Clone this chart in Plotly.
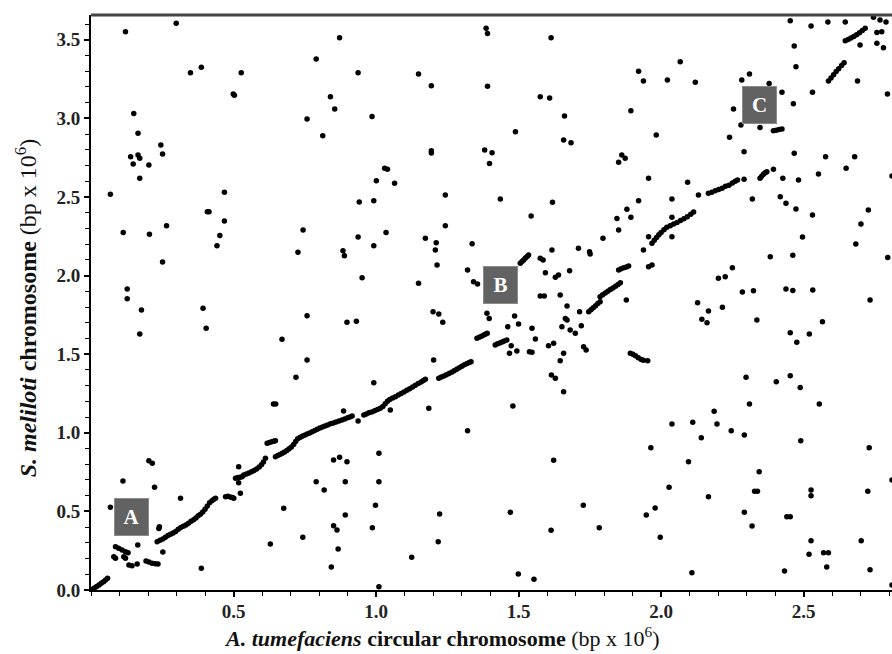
import plotly.graph_objects as go

# ---- diagonal (syntenic) runs: A. tumefaciens position (x) vs S. meliloti position (y), bp x 10^6
synteny_x = [
    0.003, 0.012, 0.020, 0.028, 0.036, 0.044, 0.051, 0.058,
    0.232, 0.242, 0.252, 0.261, 0.270, 0.279, 0.288, 0.297, 0.306, 0.315, 0.324, 0.333, 0.342, 0.351,
    0.360, 0.368, 0.376, 0.384, 0.392, 0.400, 0.408, 0.416, 0.424, 0.431, 0.437,
    0.472, 0.480, 0.488, 0.496, 0.501,
    0.507, 0.515, 0.523, 0.530,
    0.536, 0.545, 0.554, 0.563, 0.572, 0.581, 0.590, 0.598, 0.605, 0.612,
    0.618, 0.626, 0.634, 0.641, 0.647,
    0.647, 0.655, 0.663, 0.671, 0.679, 0.687, 0.695, 0.703, 0.711, 0.718, 0.725, 0.733, 0.741, 0.749,
    0.758, 0.767, 0.776, 0.785, 0.794, 0.803, 0.812, 0.821, 0.830, 0.840, 0.850, 0.860, 0.870, 0.880,
    0.890, 0.900, 0.908, 0.916,
    0.957, 0.966, 0.975, 0.985, 0.995, 1.005, 1.015, 1.024, 1.032, 1.040, 1.048, 1.058, 1.068, 1.078,
    1.088, 1.098, 1.108, 1.118, 1.128, 1.138, 1.148, 1.158, 1.166, 1.173,
    1.220, 1.229, 1.238, 1.247, 1.256, 1.265, 1.274, 1.283, 1.292, 1.301, 1.310, 1.319, 1.327, 1.333,
    1.354, 1.362, 1.370, 1.378, 1.385, 1.390,
    1.418, 1.426, 1.434, 1.442, 1.450, 1.459,
    1.506, 1.512, 1.518, 1.524, 1.530, 1.535,
    1.746, 1.754, 1.762, 1.770, 1.778, 1.786,
    1.786, 1.795, 1.804, 1.813, 1.822, 1.831, 1.840, 1.849, 1.857,
    1.851, 1.860, 1.869, 1.878, 1.886,
    1.956, 1.968,
    1.968, 1.976, 1.984, 1.992, 2.000, 2.010, 2.020, 2.032, 2.044, 2.056, 2.068, 2.080, 2.092, 2.104, 2.114,
    2.166, 2.178, 2.190, 2.202, 2.214, 2.226, 2.238, 2.250, 2.260, 2.268,
    2.347, 2.353, 2.359, 2.365, 2.371,
    2.394, 2.404, 2.414, 2.424,
    2.587, 2.596, 2.605, 2.614, 2.623, 2.633, 2.642,
    2.646, 2.656, 2.666, 2.676, 2.686, 2.696, 2.706, 2.716,
    1.892, 1.901, 1.910, 1.920, 1.930, 1.938, 1.953,
]
synteny_y = [
    0.003, 0.013, 0.022, 0.032, 0.043, 0.053, 0.064, 0.074,
    0.307, 0.317, 0.325, 0.336, 0.346, 0.355, 0.362, 0.372, 0.386, 0.397, 0.405, 0.414, 0.425, 0.437,
    0.447, 0.458, 0.472, 0.482, 0.497, 0.513, 0.535, 0.555, 0.568, 0.578, 0.584,
    0.594, 0.596, 0.592, 0.588, 0.583,
    0.711, 0.716, 0.718, 0.721,
    0.732, 0.738, 0.745, 0.752, 0.760, 0.770, 0.783, 0.797, 0.815, 0.838,
    0.933, 0.938, 0.943, 0.946, 0.950,
    0.848, 0.855, 0.862, 0.870, 0.878, 0.888, 0.898, 0.910, 0.925, 0.945, 0.962, 0.970, 0.978, 0.985,
    0.992, 0.999, 1.006, 1.014, 1.022, 1.030, 1.037, 1.043, 1.050, 1.058, 1.063, 1.069, 1.075, 1.082,
    1.088, 1.096, 1.101, 1.107,
    1.113, 1.120, 1.127, 1.133, 1.140, 1.148, 1.156, 1.168, 1.185, 1.200, 1.212, 1.222, 1.230, 1.240,
    1.250, 1.260, 1.270, 1.281, 1.292, 1.302, 1.313, 1.324, 1.332, 1.340,
    1.347, 1.355, 1.362, 1.370, 1.378, 1.386, 1.395, 1.405, 1.414, 1.424, 1.433, 1.441, 1.448, 1.452,
    1.601, 1.608, 1.615, 1.622, 1.628, 1.633,
    1.559, 1.566, 1.572, 1.578, 1.584, 1.590,
    2.078, 2.090, 2.100, 2.112, 2.122, 2.131,
    1.770, 1.783, 1.796, 1.809, 1.822, 1.834,
    1.866, 1.878, 1.889, 1.900, 1.911, 1.922, 1.933, 1.944, 1.955,
    2.036, 2.043, 2.050, 2.055, 2.061,
    2.057, 2.067,
    2.206, 2.225, 2.243, 2.260, 2.275, 2.292, 2.308, 2.318, 2.328, 2.338, 2.350, 2.362, 2.375, 2.390, 2.405,
    2.524, 2.530, 2.540, 2.548, 2.556, 2.568, 2.575, 2.590, 2.600, 2.608,
    2.619, 2.632, 2.645, 2.655, 2.661,
    2.922, 2.925, 2.929, 2.933,
    3.238, 3.258, 3.278, 3.298, 3.316, 3.336, 3.354,
    3.494, 3.502, 3.512, 3.522, 3.532, 3.545, 3.560, 3.573,
    1.506, 1.500, 1.490, 1.478, 1.467, 1.461, 1.459,
]

# ---- isolated hits
scatter_x = [
    0.068, 0.112, 0.203, 0.215, 0.223, 0.314, 0.086, 0.097, 0.109, 0.121, 0.130, 0.080, 0.086, 0.115, 0.121,
    0.133, 0.144, 0.162, 0.164, 0.193, 0.203, 0.214, 0.226, 0.235, 0.252, 0.238, 0.240, 0.387, 0.518, 0.518,
    0.524, 0.629, 0.676, 0.743, 0.640, 0.648,
    0.790, 0.818, 0.851, 0.872, 0.898, 0.892, 0.892, 0.851, 0.863, 0.867, 0.843, 1.010, 1.010, 0.998, 0.987,
    1.010, 1.125, 1.223, 1.218, 1.480, 1.471, 1.499, 1.554, 1.623, 1.614, 1.727, 1.783,
    1.321, 1.185, 0.886, 0.937, 1.050, 0.992, 1.202, 0.719, 0.758, 0.670,
    1.214, 1.321, 1.342, 1.356, 0.951, 1.149, 0.758, 0.898, 0.931, 1.200, 1.220, 1.234, 1.389, 1.397,
    1.243, 1.436, 1.619, 1.544, 1.243, 1.173, 1.211, 1.208, 1.337, 1.576, 1.586, 1.617, 1.594, 1.629, 1.640,
    1.679, 1.710, 1.749, 1.751, 1.796, 1.845, 1.851, 1.880, 1.894, 1.921, 1.956, 1.938,
    1.576, 1.590, 1.646, 1.878, 1.670, 1.714, 1.664, 1.670, 1.720, 1.652, 1.681, 1.699, 1.728, 1.737, 1.658,
    1.646, 1.623, 1.605, 1.559, 1.547, 1.538, 1.547, 1.494, 1.468, 1.474, 1.462, 1.500, 1.486, 1.615, 1.629,
    1.658,
    1.983, 2.240, 2.291, 2.467, 1.862, 1.874, 1.851, 1.956, 2.093, 2.038, 2.038, 2.038, 2.131, 2.291, 2.427,
    2.394, 2.320, 2.418, 2.438, 2.473, 2.482, 2.383, 2.462, 2.250, 2.201, 2.225, 2.285, 2.324, 2.438, 2.462,
    2.128, 2.166, 2.215, 2.143, 2.161, 2.336,
    2.453, 2.526, 2.585, 2.646, 2.745, 2.768, 2.789, 2.698, 2.757, 2.774, 2.757, 2.780, 2.467, 2.473, 2.689,
    2.794, 2.531, 2.464, 2.424, 2.379, 2.310, 2.283, 2.254, 2.280, 2.347, 2.577, 2.679, 2.649, 2.552, 2.810,
    1.921, 1.938, 2.022, 2.067, 2.120, 1.894, 2.727, 2.701, 2.683, 2.795, 2.733, 2.532, 2.566, 2.496, 2.531,
    0.121, 0.299, 0.349, 0.387, 0.527, 0.499, 0.503, 0.150, 0.165, 0.139, 0.165, 0.171, 0.148, 0.203, 0.171,
    0.245, 0.251, 0.068, 0.113, 0.205, 0.265, 0.251, 0.127, 0.127, 0.177, 0.393, 0.404, 0.408, 0.414, 0.468,
    0.468, 0.452, 0.442, 0.726, 0.171,
    0.872, 0.790, 0.937, 0.840, 0.855, 0.758, 0.813, 0.986, 1.149, 1.194, 1.194, 1.194, 1.386, 1.391, 1.391,
    1.614, 1.576, 1.609, 1.661, 1.489, 1.381, 1.407, 1.398, 1.658, 1.684, 1.030, 1.040, 1.001, 1.065, 0.941,
    0.992, 0.744, 0.937, 0.992, 1.035, 0.884, 0.889,
    2.453, 2.520, 2.476, 2.298, 2.404, 2.453, 2.488, 2.310, 2.555, 2.186, 2.038, 2.111, 2.196, 2.246, 2.292,
    2.141, 2.490, 1.964, 2.730, 2.096, 2.344, 2.028, 2.166, 2.328, 2.338, 2.526, 2.526, 2.725, 2.810, 1.979,
    1.948, 2.292, 2.441, 2.453, 1.997, 2.319, 2.526, 2.702, 2.519, 2.570, 2.587, 2.581, 2.433, 2.733, 2.108,
    2.810,
]
scatter_y = [
    0.526, 0.693, 0.823, 0.806, 0.653, 0.583, 0.275, 0.265, 0.254, 0.244, 0.237, 0.212, 0.202, 0.212, 0.202,
    0.159, 0.155, 0.165, 0.286, 0.184, 0.178, 0.170, 0.167, 0.165, 0.242, 0.392, 0.403, 0.138, 0.784, 0.683,
    0.615, 0.293, 0.520, 0.335, 1.183, 1.183,
    0.689, 0.636, 0.827, 0.844, 0.816, 0.689, 0.477, 0.409, 0.382, 0.261, 0.146, 0.870, 0.689, 0.539, 0.396,
    0.021, 0.208, 0.483, 0.307, 1.170, 0.494, 0.102, 0.068, 0.825, 0.380, 0.539, 0.396,
    1.013, 1.156, 1.139, 1.075, 1.145, 1.319, 1.463, 1.353, 1.463, 1.595,
    2.067, 2.036, 1.961, 1.947, 1.987, 1.951, 1.745, 1.703, 1.709, 1.770, 1.756, 1.703, 1.760, 1.728,
    2.513, 2.487, 2.466, 2.379, 2.317, 2.237, 2.209, 2.163, 2.203, 2.110, 2.099, 2.163, 2.018, 1.989, 2.004,
    2.031, 2.174, 2.152, 2.137, 2.237, 2.364, 2.290, 2.422, 2.371, 2.476, 2.247, 2.163,
    1.870, 1.870, 1.877, 1.845, 1.807, 1.770, 1.728, 1.718, 1.681, 1.675, 1.654, 1.633, 1.548, 1.527, 1.506,
    1.459, 1.569, 1.554, 1.597, 1.665, 1.516, 1.512, 1.520, 1.506, 1.554, 1.675, 1.692, 1.743, 1.367, 1.347,
    1.261,
    2.894, 2.880, 2.788, 2.778, 2.767, 2.746, 2.721, 2.619, 2.594, 2.487, 2.371, 2.247, 2.513, 2.613, 2.619,
    2.676, 2.487, 2.502, 2.460, 2.424, 2.608, 2.120, 2.129, 2.050, 1.983, 1.993, 1.896, 1.904, 1.915, 1.906,
    1.828, 1.775, 1.798, 1.722, 1.700, 1.718,
    3.622, 3.588, 3.613, 3.613, 3.643, 3.626, 3.613, 3.467, 3.546, 3.552, 3.478, 3.450, 3.461, 3.329, 3.238,
    3.155, 3.166, 3.094, 3.166, 3.223, 3.282, 3.244, 3.060, 2.958, 2.943, 2.757, 2.757, 2.683, 2.646, 2.634,
    3.300, 3.238, 3.244, 3.361, 3.230, 3.049, 2.417, 2.328, 2.201, 2.116, 1.845, 1.908, 1.707, 2.245, 2.386,
    3.552, 3.605, 3.291, 3.325, 3.291, 3.155, 3.147, 3.032, 2.905, 2.756, 2.767, 2.746, 2.710, 2.704, 2.619,
    2.831, 2.774, 2.517, 2.275, 2.263, 2.318, 2.087, 1.915, 1.853, 1.781, 1.792, 1.665, 2.406, 2.406, 2.530,
    2.347, 2.256, 2.190, 2.148, 1.628,
    3.513, 3.378, 3.291, 3.138, 3.060, 2.996, 2.890, 3.013, 3.282, 3.208, 2.795, 2.780, 3.573, 3.541, 3.204,
    3.513, 3.138, 3.130, 3.015, 2.916, 2.799, 2.782, 2.714, 2.863, 2.845, 2.683, 2.676, 2.604, 2.587, 2.468,
    2.476, 2.290, 2.245, 2.190, 2.275, 2.159, 2.127,
    1.637, 1.628, 1.576, 1.353, 1.325, 1.363, 1.289, 1.183, 1.183, 1.137, 1.056, 1.067, 1.056, 1.013, 0.986,
    0.969, 0.950, 0.905, 0.905, 0.816, 0.753, 0.653, 0.594, 0.628, 0.628, 0.636, 0.600, 0.628, 0.700, 0.522,
    0.477, 0.494, 0.466, 0.466, 0.335, 0.407, 0.314, 0.314, 0.227, 0.237, 0.237, 0.146, 0.121, 0.129, 0.110,
    0.032,
]

# ---- region labels
label_text = ["A", "B", "C"]
label_x = [0.142, 1.436, 2.344]
label_y = [0.464, 1.943, 3.088]

x_ticks = [0.5, 1.0, 1.5, 2.0, 2.5]
y_ticks = [0.0, 0.5, 1.0, 1.5, 2.0, 2.5, 3.0, 3.5]

SERIF = "Liberation Serif, Times New Roman, serif"

fig = go.Figure()
marker = dict(color="black", size=5.5, line=dict(width=0))
fig.add_trace(go.Scatter(x=synteny_x, y=synteny_y, mode="markers", marker=marker,
                         hoverinfo="skip", showlegend=False))
fig.add_trace(go.Scatter(x=scatter_x, y=scatter_y, mode="markers", marker=marker,
                         hoverinfo="skip", showlegend=False))

for t, lx, ly in zip(label_text, label_x, label_y):
    fig.add_annotation(x=lx, y=ly, xref="x", yref="y", text=f"<b>{t}</b>", showarrow=False,
                       font=dict(family=SERIF, size=21, color="white"),
                       bgcolor="#626262", bordercolor="#8a8a8a", borderwidth=1, borderpad=0,
                       width=33, height=36, align="center", valign="middle")

fig.add_annotation(xref="paper", yref="paper", x=0.438, y=-0.082, xanchor="center", yanchor="middle",
                   showarrow=False,
                   text="<b><i>A. tumefaciens</i> circular chromosome</b> (bp x 10<sup>6</sup>)",
                   font=dict(family=SERIF, size=22, color="#111"))
fig.add_annotation(xref="paper", yref="paper", x=-0.081, y=0.49, xanchor="center", yanchor="middle",
                   showarrow=False, textangle=-90,
                   text="<b><i>S. meliloti</i> chromosome</b> (bp x 10<sup>6</sup>)",
                   font=dict(family=SERIF, size=24, color="#111"))

fig.add_shape(type="line", xref="paper", yref="paper", x0=0, x1=1, y0=1, y1=1,
              line=dict(color="#444", width=3))

fig.update_xaxes(range=[0, 2.81], showgrid=False, zeroline=False, showline=True, linecolor="black",
                 linewidth=2, ticks="outside", ticklen=5, tickwidth=1.5, tickcolor="black",
                 tickvals=x_ticks, ticktext=[f"{v:.1f}" for v in x_ticks], ticklabelstandoff=-2,
                 tickfont=dict(family=SERIF, size=19, color="#222", weight="bold"),
                 minor=dict(dtick=0.1, tick0=0, ticks="outside", ticklen=4, tickwidth=1, tickcolor="black"))
fig.update_yaxes(range=[0, 3.658], showgrid=False, zeroline=False, showline=True, linecolor="black",
                 linewidth=2, ticks="outside", ticklen=5, tickwidth=1.5, tickcolor="black",
                 tickvals=y_ticks, ticktext=[f"{v:.1f}" for v in y_ticks], ticklabelstandoff=0,
                 tickfont=dict(family=SERIF, size=19, color="#222", weight="bold"),
                 minor=dict(dtick=0.1, tick0=0, ticks="outside", ticklen=4, tickwidth=1, tickcolor="black"))

fig.update_layout(width=892, height=654, margin=dict(l=91, r=0, t=15, b=64),
                  plot_bgcolor="white", paper_bgcolor="white", hovermode=False)

fig.write_html("out.html", config={"displayModeBar": False},
               post_script="document.body.style.margin='0';document.body.style.overflow='hidden';")
